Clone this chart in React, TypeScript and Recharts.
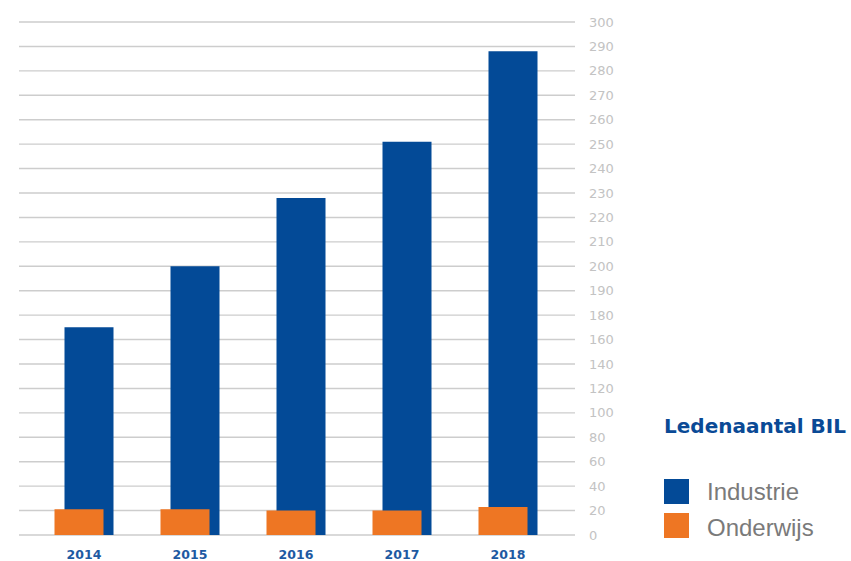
import React from 'react';
import { BarChart, Bar, XAxis, YAxis, CartesianGrid } from 'recharts';

const years = ['2014', '2015', '2016', '2017', '2018'];
const industrie = [170, 200, 228, 251, 288];
const onderwijs = [21, 21, 20, 20, 23];
const yTickLabels = [0, 20, 40, 60, 80, 100, 120, 140, 160, 180, 190, 200, 210, 220, 230, 240, 250, 260, 270, 280, 290, 300];

const BREAK = 180;
// The original axis is piecewise: steps of 20 up to 180, steps of 10 above.
const toPos = (v: number) => (v <= BREAK ? v / 20 : BREAK / 20 + (v - BREAK) / 10);

const data = years.map((y, i) => ({
  year: y,
  industrie: toPos(industrie[i]),
  onderwijs: toPos(onderwijs[i]),
}));
const yTicks = yTickLabels.map(toPos);

const BLUE = '#034A97';
const ORANGE = '#EE7623';

export default function App() {
  return (
    <div style={{ position: 'absolute', left: 0, top: 0, width: 851, height: 561, overflow: 'hidden' }}>
      <BarChart
        width={851}
        height={561}
        data={data}
        margin={{ top: 22, right: 216, bottom: 0, left: 19 }}
      >
        <CartesianGrid xAxisId="b" vertical={false} stroke="#cdcdcd" strokeWidth={1.4} />
        <XAxis
          xAxisId="b"
          dataKey="year"
          padding={{ left: 16.5, right: 9.5 }}
          axisLine={false}
          tickLine={false}
          tickSize={0}
          tickMargin={15}
          height={26}
          interval={0}
          tick={{ fill: '#1E5AA2', fontSize: 12.5, fontWeight: 'bold', fontFamily: 'DejaVu Sans', dx: -4.5 }}
        />
        <XAxis
          xAxisId="o"
          dataKey="year"
          padding={{ left: 6.5, right: 19.5 }}
          hide
        />
        <YAxis
          orientation="right"
          type="number"
          domain={[0, 21]}
          ticks={yTicks}
          interval={0}
          axisLine={false}
          tickLine={false}
          tickSize={0}
          tickMargin={14}
          width={60}
          tickFormatter={(v: number) => {
            const idx = yTicks.findIndex((t) => Math.abs(t - v) < 1e-6);
            return idx >= 0 ? String(yTickLabels[idx]) : '';
          }}
          tick={{ fill: '#c3c3c3', fontSize: 13, fontFamily: 'DejaVu Sans' }}
        />
        <Bar xAxisId="b" dataKey="industrie" name="Industrie" fill={BLUE} barSize={49} isAnimationActive={false} />
        <Bar xAxisId="o" dataKey="onderwijs" name="Onderwijs" fill={ORANGE} barSize={49} isAnimationActive={false} />
      </BarChart>
      <svg
        width={851}
        height={561}
        style={{ position: 'absolute', left: 0, top: 0, pointerEvents: 'none' }}
      >
        <text x={664} y={433} fill="#0A4A96" fontFamily="DejaVu Sans" fontWeight="bold" fontSize={20}>
          Ledenaantal BIL
        </text>
        <rect x={664} y={479} width={25} height={25} fill={BLUE} />
        <rect x={664} y={513} width={25} height={25} fill={ORANGE} />
        <text x={707} y={500} fill="#7a7a7a" fontFamily="Liberation Sans" fontSize={24}>
          Industrie
        </text>
        <text x={707} y={536} fill="#7a7a7a" fontFamily="Liberation Sans" fontSize={24}>
          Onderwijs
        </text>
      </svg>
    </div>
  );
}
